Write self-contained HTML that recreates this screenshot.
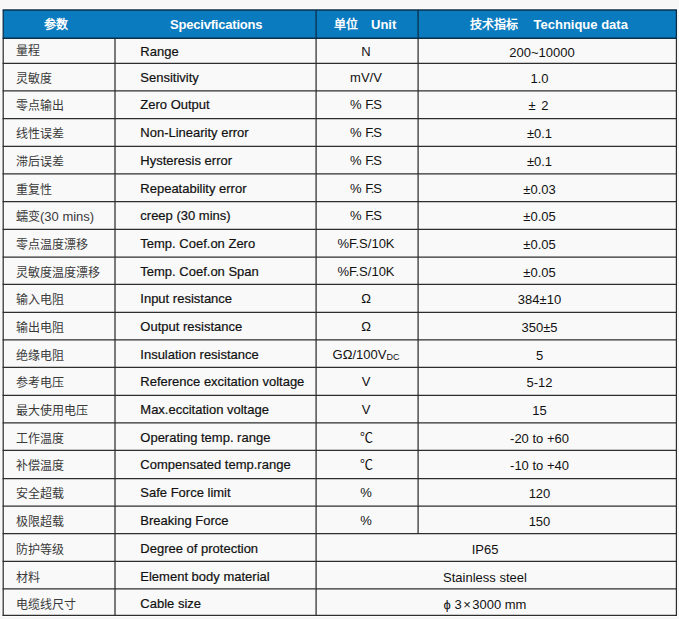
<!DOCTYPE html>
<html lang="zh-CN"><head><meta charset="utf-8"><style>
html,body{margin:0;padding:0;}
body{width:679px;height:619px;background:#f7f7f7;position:relative;overflow:hidden;font-family:"Liberation Sans",sans-serif;}
svg{position:absolute;left:0;top:0;}
.t{position:absolute;white-space:nowrap;line-height:16px;color:#111;font-size:13px;}
.b{-webkit-text-stroke-width:0.2px;}
.c{text-align:center;}
.cn{color:#3a3a3a;font-size:12px;-webkit-text-stroke-width:0;}
.e{font-size:13px;color:#3a3a3a;}
.w{color:#fff;font-weight:bold;font-size:13px;}
.hc{font-size:12px;}
.sp{letter-spacing:-0.2px;}
sub{font-size:9px;vertical-align:-1px;}
</style></head><body>

<svg width="679" height="619" viewBox="0 0 679 619">
<rect x="3.20" y="9.90" width="673.20" height="605.50" fill="#f9f9f9" stroke="#ffffff" stroke-width="3"/>
<rect x="3.20" y="9.90" width="673.20" height="28.30" fill="#0b7bc0"/>
<line x1="2.60" x2="677.00" y1="63.30" y2="63.30" stroke="#2e2e2e" stroke-width="1.25"/>
<line x1="2.60" x2="677.00" y1="90.90" y2="90.90" stroke="#2e2e2e" stroke-width="1.25"/>
<line x1="2.60" x2="677.00" y1="118.50" y2="118.50" stroke="#2e2e2e" stroke-width="1.25"/>
<line x1="2.60" x2="677.00" y1="146.40" y2="146.40" stroke="#2e2e2e" stroke-width="1.25"/>
<line x1="2.60" x2="677.00" y1="173.80" y2="173.80" stroke="#2e2e2e" stroke-width="1.25"/>
<line x1="2.60" x2="677.00" y1="201.50" y2="201.50" stroke="#2e2e2e" stroke-width="1.25"/>
<line x1="2.60" x2="677.00" y1="229.40" y2="229.40" stroke="#2e2e2e" stroke-width="1.25"/>
<line x1="2.60" x2="677.00" y1="257.00" y2="257.00" stroke="#2e2e2e" stroke-width="1.25"/>
<line x1="2.60" x2="677.00" y1="284.40" y2="284.40" stroke="#2e2e2e" stroke-width="1.25"/>
<line x1="2.60" x2="677.00" y1="312.30" y2="312.30" stroke="#2e2e2e" stroke-width="1.25"/>
<line x1="2.60" x2="677.00" y1="339.80" y2="339.80" stroke="#2e2e2e" stroke-width="1.25"/>
<line x1="2.60" x2="677.00" y1="367.40" y2="367.40" stroke="#2e2e2e" stroke-width="1.25"/>
<line x1="2.60" x2="677.00" y1="395.30" y2="395.30" stroke="#2e2e2e" stroke-width="1.25"/>
<line x1="2.60" x2="677.00" y1="422.80" y2="422.80" stroke="#2e2e2e" stroke-width="1.25"/>
<line x1="2.60" x2="677.00" y1="450.40" y2="450.40" stroke="#2e2e2e" stroke-width="1.25"/>
<line x1="2.60" x2="677.00" y1="478.50" y2="478.50" stroke="#2e2e2e" stroke-width="1.25"/>
<line x1="2.60" x2="677.00" y1="506.00" y2="506.00" stroke="#2e2e2e" stroke-width="1.25"/>
<line x1="2.60" x2="677.00" y1="533.50" y2="533.50" stroke="#2e2e2e" stroke-width="1.25"/>
<line x1="2.60" x2="677.00" y1="561.30" y2="561.30" stroke="#2e2e2e" stroke-width="1.25"/>
<line x1="2.60" x2="677.00" y1="588.80" y2="588.80" stroke="#2e2e2e" stroke-width="1.25"/>
<line x1="2.60" x2="677.00" y1="615.40" y2="615.40" stroke="#2e2e2e" stroke-width="1.25"/>
<line x1="3.20" x2="3.20" y1="38.20" y2="616.00" stroke="#2e2e2e" stroke-width="1.25"/>
<line x1="115.00" x2="115.00" y1="38.20" y2="616.00" stroke="#2e2e2e" stroke-width="1.25"/>
<line x1="316.10" x2="316.10" y1="38.20" y2="616.00" stroke="#2e2e2e" stroke-width="1.25"/>
<line x1="676.40" x2="676.40" y1="38.20" y2="616.00" stroke="#2e2e2e" stroke-width="1.25"/>
<line x1="418.10" x2="418.10" y1="38.20" y2="533.50" stroke="#2e2e2e" stroke-width="1.25"/>
<line x1="2.60" x2="677.00" y1="9.90" y2="9.90" stroke="#0c2f48" stroke-width="1.5"/>
<line x1="2.60" x2="677.00" y1="38.20" y2="38.20" stroke="#0c2f48" stroke-width="1.5"/>
<line x1="3.20" x2="3.20" y1="9.90" y2="38.20" stroke="#0c2f48" stroke-width="1.3"/>
<line x1="316.10" x2="316.10" y1="9.90" y2="38.20" stroke="#0c2f48" stroke-width="1.3"/>
<line x1="418.10" x2="418.10" y1="9.90" y2="38.20" stroke="#0c2f48" stroke-width="1.3"/>
<line x1="676.40" x2="676.40" y1="9.90" y2="38.20" stroke="#0c2f48" stroke-width="1.3"/>
</svg>
<div class="t w" style="left:44px;top:17px"><span class=hc>参数</span></div>
<div class="t w" style="left:170px;top:17px"><span class=sp>Specivfications</span></div>
<div class="t w" style="left:334px;top:17px"><span class=hc>单位</span></div>
<div class="t w" style="left:371px;top:17px">Unit</div>
<div class="t w" style="left:470px;top:17px"><span class=hc>技术指标</span></div>
<div class="t w" style="left:533.5px;top:17px">Technique data</div>
<div class="t cn" style="left:16px;top:43px">量程</div>
<div class="t b" style="left:140.3px;top:44px">Range</div>
<div class="t c" style="left:266px;width:200px;top:44px">N</div>
<div class="t c" style="left:439.5px;width:200px;top:45px"><span style="position:relative;left:2.5px">200~10000</span></div>
<div class="t cn" style="left:16px;top:71px">灵敏度</div>
<div class="t b" style="left:140.3px;top:70px">Sensitivity</div>
<div class="t c" style="left:266px;width:200px;top:70px">mV/V</div>
<div class="t c" style="left:439.5px;width:200px;top:71px">1.0</div>
<div class="t cn" style="left:16px;top:98px">零点输出</div>
<div class="t b" style="left:140.3px;top:97px">Zero Output</div>
<div class="t c" style="left:266px;width:200px;top:97px">% <span style="letter-spacing:-1.1px">F.</span>S</div>
<div class="t c" style="left:439.5px;width:200px;top:98px"><span style="position:relative;left:-1px;word-spacing:2px">± 2</span></div>
<div class="t cn" style="left:16px;top:126px">线性误差</div>
<div class="t b" style="left:140.3px;top:125px">Non-Linearity error</div>
<div class="t c" style="left:266px;width:200px;top:125px">% <span style="letter-spacing:-1.1px">F.</span>S</div>
<div class="t c" style="left:439.5px;width:200px;top:126px">±0.1</div>
<div class="t cn" style="left:16px;top:154px">滞后误差</div>
<div class="t b" style="left:140.3px;top:153px">Hysteresis error</div>
<div class="t c" style="left:266px;width:200px;top:153px">% <span style="letter-spacing:-1.1px">F.</span>S</div>
<div class="t c" style="left:439.5px;width:200px;top:154px">±0.1</div>
<div class="t cn" style="left:16px;top:182px">重复性</div>
<div class="t b" style="left:140.3px;top:181px">Repeatability error</div>
<div class="t c" style="left:266px;width:200px;top:181px">% <span style="letter-spacing:-1.1px">F.</span>S</div>
<div class="t c" style="left:439.5px;width:200px;top:182px">±0.03</div>
<div class="t cn" style="left:16px;top:209px">蠕变<span class=e>(30 mins)</span></div>
<div class="t b" style="left:140.3px;top:208px">creep (30 mins)</div>
<div class="t c" style="left:266px;width:200px;top:208px">% <span style="letter-spacing:-1.1px">F.</span>S</div>
<div class="t c" style="left:439.5px;width:200px;top:209px">±0.05</div>
<div class="t cn" style="left:16px;top:237px">零点温度漂移</div>
<div class="t b" style="left:140.3px;top:236px">Temp. Coef.on Zero</div>
<div class="t c" style="left:266px;width:200px;top:236px">%F.S/10K</div>
<div class="t c" style="left:439.5px;width:200px;top:237px">±0.05</div>
<div class="t cn" style="left:16px;top:265px">灵敏度温度漂移</div>
<div class="t b" style="left:140.3px;top:264px">Temp. Coef.on Span</div>
<div class="t c" style="left:266px;width:200px;top:264px">%F.S/10K</div>
<div class="t c" style="left:439.5px;width:200px;top:265px">±0.05</div>
<div class="t cn" style="left:16px;top:292px">输入电阻</div>
<div class="t b" style="left:140.3px;top:291px">Input resistance</div>
<div class="t c" style="left:266px;width:200px;top:291px">Ω</div>
<div class="t c" style="left:439.5px;width:200px;top:292px">384±10</div>
<div class="t cn" style="left:16px;top:320px">输出电阻</div>
<div class="t b" style="left:140.3px;top:319px">Output resistance</div>
<div class="t c" style="left:266px;width:200px;top:319px">Ω</div>
<div class="t c" style="left:439.5px;width:200px;top:320px">350±5</div>
<div class="t cn" style="left:16px;top:348px">绝缘电阻</div>
<div class="t b" style="left:140.3px;top:347px">Insulation resistance</div>
<div class="t c" style="left:266px;width:200px;top:347px">GΩ/100V<sub>DC</sub></div>
<div class="t c" style="left:439.5px;width:200px;top:348px">5</div>
<div class="t cn" style="left:16px;top:375px">参考电压</div>
<div class="t b" style="left:140.3px;top:374px">Reference excitation voltage</div>
<div class="t c" style="left:266px;width:200px;top:374px">V</div>
<div class="t c" style="left:439.5px;width:200px;top:375px">5-12</div>
<div class="t cn" style="left:16px;top:403px">最大使用电压</div>
<div class="t b" style="left:140.3px;top:402px">Max.eccitation voltage</div>
<div class="t c" style="left:266px;width:200px;top:402px">V</div>
<div class="t c" style="left:439.5px;width:200px;top:403px">15</div>
<div class="t cn" style="left:16px;top:431px">工作温度</div>
<div class="t b" style="left:140.3px;top:430px">Operating temp. range</div>
<div class="t c" style="left:266px;width:200px;top:430px">℃</div>
<div class="t c" style="left:439.5px;width:200px;top:431px">-20 to +60</div>
<div class="t cn" style="left:16px;top:458px">补偿温度</div>
<div class="t b" style="left:140.3px;top:457px">Compensated temp.range</div>
<div class="t c" style="left:266px;width:200px;top:457px">℃</div>
<div class="t c" style="left:439.5px;width:200px;top:458px">-10 to +40</div>
<div class="t cn" style="left:16px;top:486px">安全超载</div>
<div class="t b" style="left:140.3px;top:485px">Safe Force limit</div>
<div class="t c" style="left:266px;width:200px;top:485px">%</div>
<div class="t c" style="left:439.5px;width:200px;top:486px">120</div>
<div class="t cn" style="left:16px;top:514px">极限超载</div>
<div class="t b" style="left:140.3px;top:513px">Breaking Force</div>
<div class="t c" style="left:266px;width:200px;top:513px">%</div>
<div class="t c" style="left:439.5px;width:200px;top:514px">150</div>
<div class="t cn" style="left:16px;top:542px">防护等级</div>
<div class="t b" style="left:140.3px;top:541px">Degree of protection</div>
<div class="t c" style="left:385px;width:200px;top:542px">IP65</div>
<div class="t cn" style="left:16px;top:570px">材料</div>
<div class="t b" style="left:140.3px;top:569px">Element body material</div>
<div class="t c" style="left:385px;width:200px;top:570px">Stainless steel</div>
<div class="t cn" style="left:16px;top:597px">电缆线尺寸</div>
<div class="t b" style="left:140.3px;top:596px">Cable size</div>
<div class="t c" style="left:385px;width:200px;top:597px">ϕ 3<span style="margin:0 1.5px">×</span>3000 mm</div>
</body></html>
